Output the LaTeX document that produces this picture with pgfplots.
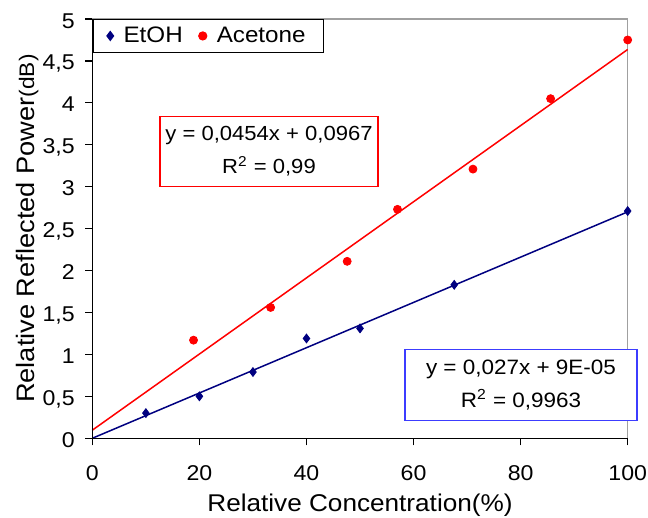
\documentclass[border=0pt]{standalone}
\usepackage{pgfplots}
\pgfplotsset{compat=1.18}
\usepackage{fontspec}
\setmainfont[FakeStretch=1.08]{Liberation Sans}
\definecolor{etoh}{RGB}{0,0,128}
\definecolor{acet}{RGB}{255,0,0}
\definecolor{boxblue}{RGB}{60,60,255}
\definecolor{framegray}{RGB}{160,160,160}

\begin{document}
\begin{tikzpicture}
\useasboundingbox (-46.15pt,-39.5pt) rectangle (277.65pt,219pt);
\begin{axis}[
  scale only axis, width=267.5pt, height=209.5pt,
  xmin=0, xmax=100, ymin=0, ymax=5,
  clip=false,
  axis line style={framegray, line width=0.6pt},
  tick align=outside, xtick pos=left, ytick pos=left,
  major tick length=3.5pt,
  tick style={black, line width=0.6pt},
  xtick={0,20,40,60,80,100}, xticklabels={0,20,40,60,80,100},
  ytick={0,0.5,1,1.5,2,2.5,3,3.5,4,4.5,5},
  yticklabels={0,{0,5},1,{1,5},2,{2,5},3,{3,5},4,{4,5},5},
  ticklabel style={font=\fontsize{10.7}{12}\selectfont},
  xticklabel style={anchor=base, yshift=-17.85pt},
  yticklabel style={anchor=base east, xshift=-1.8pt, yshift=-4.5pt},
  xlabel={Relative Concentration(\%)},
  ylabel={Relative Reflected Power{\fontsize{10.5}{12}\selectfont(dB)}},
  every axis x label/.style={at={(rel axis cs:0.5,0)}, anchor=base, yshift=-36.35pt, font=\fontsize{12.1}{14}\selectfont},
  every axis y label/.style={at={(axis description cs:-0.1219,0.5)}, anchor=center, rotate=90, font=\fontsize{12.6}{14}\selectfont},
  legend columns=-1,
  legend style={at={(rel axis cs:0,1)}, anchor=north west, draw=black, line width=0.6pt,
    font=\fontsize{11.2}{13}\selectfont, inner xsep=7pt, inner ysep=1.5pt,
    /tikz/every odd column/.append style={column sep=3pt},
    /tikz/every even column/.append style={column sep=6pt}},
]
% trendlines
\addplot[etoh, line width=0.75pt, forget plot] coordinates {(0,0.00009) (100,2.70009)};
\addplot[acet, line width=0.75pt, forget plot] coordinates {(0,0.0967) (100,4.6367)};
% data
\addplot[only marks, mark=diamond*, mark size=2.2pt, color=etoh] coordinates {
  (10,0.30) (20,0.50) (30,0.79) (40,1.19) (50,1.31) (67.6,1.83) (100,2.71)
};
\addplot[only marks, mark=*, mark size=2pt, color=acet] coordinates {
  (18.9,1.17) (33.3,1.56) (47.6,2.11) (57,2.73) (71.1,3.21) (85.6,4.05) (100,4.75)
};
\legend{EtOH, Acetone}
\draw[black, line width=0.6pt] (rel axis cs:0,1) -- (rel axis cs:0,0) -- (rel axis cs:1,0);
\node[draw=acet, line width=0.6pt, fill=white, minimum width=109pt, minimum height=35pt,
  inner xsep=2.5pt, align=center, font=\fontsize{10.2}{16.5}\selectfont] at (axis cs:33,3.42)
  {y = 0,0454x + 0,0967\\R\textsuperscript{2} = 0,99};
\node[draw=boxblue, line width=0.6pt, fill=white, minimum width=116pt, minimum height=35.5pt,
  inner xsep=2.5pt, align=center, font=\fontsize{10.4}{16.5}\selectfont] at (axis cs:80.07,0.638)
  {y = 0,027x + 9E-05\\R\textsuperscript{2} = 0,9963};
\end{axis}
\end{tikzpicture}
\end{document}
